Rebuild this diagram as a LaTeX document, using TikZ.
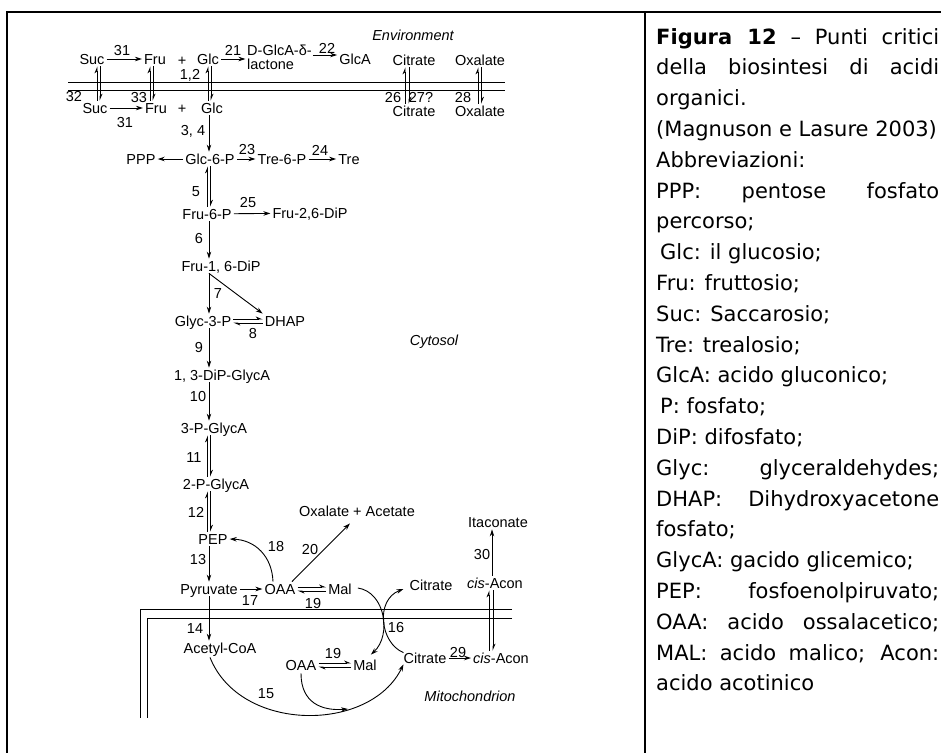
\documentclass[tikz,border=0pt]{standalone}
\usepackage{fontspec}
\setmainfont{Liberation Sans}
\newfontfamily\capfont{DejaVu Sans}
\usetikzlibrary{arrows.meta,calc}
\begin{document}
\begin{tikzpicture}[x=1pt,y=-1pt,
  met/.style={inner xsep=2pt,inner ysep=2pt,text height=10.4pt,text depth=0pt,font=\fontsize{14.5}{16}\selectfont},
  num/.style={inner sep=0pt,text height=10.4pt,text depth=0pt,font=\fontsize{14.5}{16}\selectfont},
  itl/.style={inner sep=0pt,font=\fontsize{14.5}{16}\selectfont\itshape},
  ar/.style={line width=0.9pt,-{Stealth[length=7pt,width=4.5pt]}},
  hp/.style={line width=0.8pt,-{Stealth[length=6pt,width=5pt,harpoon]}},
  mem/.style={line width=0.9pt},
  frame/.style={line width=1.3pt},
  captxt/.style={inner sep=0pt,anchor=base west,font=\capfont\fontsize{21}{25}\selectfont},
]
\useasboundingbox (0,0) rectangle (941,753);
% table frame
\draw[frame,line width=2pt] (7,12) -- (7,753);
\draw[frame] (6,12) -- (941,12);
\draw[frame] (645,12) -- (645,753);
% membranes
\draw[mem] (68,82) -- (505,82);
\draw[mem] (68,90) -- (505,90);
\draw[mem] (512,609) -- (140,609) -- (140,718);
\draw[mem] (512,618) -- (147,618) -- (147,718);
% spine coordinates
\coordinate (spine) at (209,0);
\coordinate (tx) at (491,0);
% environment
\node[itl] (env) at (413,35) {Environment};
\node[met] (sucE) at (92,59) {Suc};
\node[met] (fruE) at (155,59) {Fru};
\node[met] (plE) at (182,60) {+};
\node[met] (glcE) at (208,59) {Glc};
\node[inner sep=0pt,anchor=west,align=left,font=\fontsize{14.5}{14}\selectfont] (lac) at (247,57.5) {D-GlcA-δ-\\lactone};
\node[met] (glca) at (355,59) {GlcA};
\node[met] (citE) at (414,60) {Citrate};
\node[met] (oxE) at (480,60) {Oxalate};
\node[met] (sucC) at (95,108) {Suc};
\node[met] (fruC) at (156,108) {Fru};
\node[met] (plC) at (182,108) {+};
\node[met] (glcC) at (212,108) {Glc};
\node[met] (citC) at (414,111) {Citrate};
\node[met] (oxC) at (480,111) {Oxalate};
\node[num] (l31a) at (122,50) {31};
\node[num] (l21) at (233,50) {21};
\node[num] (l22) at (327,48) {22};
\node[num] (l12) at (190,74) {1,2};
\node[num] (l32) at (74,96) {32};
\node[num] (l33) at (139,97) {33};
\node[num] (l31b) at (125,122) {31};
\node[num] (l26) at (393,97) {26};
\node[num] (l27) at (421,97) {27?};
\node[num] (l28) at (463,97) {28};
\node[num] (l34) at (193,130) {3, 4};
% environment arrows
\draw[ar] (sucE) -- (fruE);
\draw[ar] (sucC) -- (fruC);
\draw[ar,shorten >=1.5pt] (glcE) -- (glcE -| lac.west);
\draw[ar] ($(lac.east)+(1,-2.5)$) -- ($(lac.east -| glca.west)+(0,-2.5)$);
% transports across plasma membrane
\draw[hp] ($(sucC.north)+(2,0)$) -- ($(sucC.north |- sucE.south)+(2,0)$);
\draw[hp] ($(sucC.north |- sucE.south)+(5,0)$) -- ($(sucC.north)+(5,0)$);
\draw[hp] ($(fruC.north)+(-6,0)$) -- ($(fruC.north |- fruE.south)+(-6,0)$);
\draw[hp] ($(fruC.north |- fruE.south)+(-3,0)$) -- ($(fruC.north)+(-3,0)$);
\draw[hp] ($(glcC.north)+(-4,0)$) -- ($(glcC.north |- glcE.south)+(-4,0)$);
\draw[hp] ($(glcC.north |- glcE.south)+(-1,0)$) -- ($(glcC.north)+(-1,0)$);
\draw[hp] ($(citC.north)+(-9,0)$) -- ($(citC.north |- citE.south)+(-9,0)$);
\draw[hp] ($(citC.north |- citE.south)+(-5,0)$) -- ($(citC.north)+(-5,0)$);
\draw[hp] ($(oxC.north)+(-2,0)$) -- ($(oxC.north |- oxE.south)+(-2,0)$);
\draw[hp] ($(oxC.north |- oxE.south)+(1.5,0)$) -- ($(oxC.north)+(1.5,0)$);
% glycolysis nodes
\node[met] (glc6p) at (210,159) {Glc-6-P};
\node[met] (ppp) at (141,159) {PPP};
\node[met] (tre6p) at (282,159) {Tre-6-P};
\node[met] (tre) at (349,159) {Tre};
\node[num] (l23) at (247,149) {23};
\node[num] (l24) at (320,150) {24};
\node[num] (l5) at (196,191) {5};
\node[met] (fru6p) at (207,214) {Fru-6-P};
\node[met] (fru26) at (310,213) {Fru-2,6-DiP};
\node[num] (l25) at (248,202) {25};
\node[num] (l6) at (199,238) {6};
\node[met] (fru16) at (221,266) {Fru-1, 6-DiP};
\node[num] (l7) at (218,293) {7};
\node[met] (glyc3p) at (203,321) {Glyc-3-P};
\node[met] (dhap) at (285,321) {DHAP};
\node[num] (l8) at (253,333) {8};
\node[num] (l9) at (199,347) {9};
\node[itl] (cyto) at (434,342) {Cytosol};
\node[met] (dipg) at (222,375) {1, 3-DiP-GlycA};
\node[num] (l10) at (198,396) {10};
\node[met] (pg3) at (214,428) {3-P-GlycA};
\node[num] (l11) at (194,457) {11};
\node[met] (pg2) at (216,484) {2-P-GlycA};
\node[num] (l12b) at (196,512) {12};
\node[met] (pep) at (213,539) {PEP};
\node[num] (l13) at (198,559) {13};
\node[met] (pyr) at (209,589) {Pyruvate};
\node[num] (l17) at (250,600) {17};
\node[met] (oaa) at (280,589) {OAA};
\node[num] (l19a) at (313,603) {19};
\node[met] (mal) at (340,589) {Mal};
\node[num] (l18) at (276,546) {18};
\node[num] (l20) at (310,549) {20};
\node[met] (oxac) at (357,511) {Oxalate + Acetate};
\node[met] (itac) at (498,522) {Itaconate};
\node[num] (l30) at (482,554) {30};
\node[met] (citU) at (431,585) {Citrate};
\node[met] (caconU) at (495,583) {\textit{cis}-Acon};
\node[num] (l14) at (195,628) {14};
\node[met] (acoa) at (220,648) {Acetyl-CoA};
\node[num] (l16) at (396,627) {16};
\node[met] (oaaM) at (301,665) {OAA};
\node[met] (malM) at (365,665) {Mal};
\node[num] (l19b) at (333,653) {19};
\node[met] (citM) at (425,658) {Citrate};
\node[num] (l29) at (458,652) {29};
\node[met] (caconM) at (501,658) {\textit{cis}-Acon};
\node[num] (l15) at (266,693) {15};
\node[itl] (mito) at (470,696) {Mitochondrion};
% glycolysis arrows
\draw[ar] (spine |- glcC.south) -- (spine |- glc6p.north);
\draw[ar] (glc6p) -- (ppp);
\draw[ar] (glc6p) -- (tre6p);
\draw[ar] (tre6p) -- (tre);
\draw[hp] ($(spine |- fru6p.north)+(-1.5,0)$) -- ($(spine |- glc6p.south)+(-1.5,0)$);
\draw[hp] ($(spine |- glc6p.south)+(1.5,0)$) -- ($(spine |- fru6p.north)+(1.5,0)$);
\draw[ar] (fru6p) -- (fru26);
\draw[ar] (spine |- fru6p.south) -- (spine |- fru16.north);
\draw[ar] (spine |- fru16.south) -- (spine |- glyc3p.north);
\draw[ar] (spine |- fru16.south) -- (dhap.north west);
\draw[hp] ($(glyc3p.east)+(0,-2)$) -- ($(glyc3p.east -| dhap.west)+(0,-2)$);
\draw[hp] ($(glyc3p.east -| dhap.west)+(0,2)$) -- ($(glyc3p.east)+(0,2)$);
\draw[ar] (spine |- glyc3p.south) -- (spine |- dipg.north);
\draw[ar] (spine |- dipg.south) -- (spine |- pg3.north);
\draw[hp] ($(spine |- pg2.north)+(-1.5,0)$) -- ($(spine |- pg3.south)+(-1.5,0)$);
\draw[hp] ($(spine |- pg3.south)+(1.5,0)$) -- ($(spine |- pg2.north)+(1.5,0)$);
\draw[hp] ($(spine |- pep.north)+(-1.5,0)$) -- ($(spine |- pg2.south)+(-1.5,0)$);
\draw[hp] ($(spine |- pg2.south)+(1.5,0)$) -- ($(spine |- pep.north)+(1.5,0)$);
\draw[ar] (spine |- pep.south) -- (spine |- pyr.north);
\draw[ar] (pyr) -- (oaa);
\draw[hp] ($(oaa.east)+(0,-2)$) -- ($(oaa.east -| mal.west)+(0,-2)$);
\draw[hp] ($(oaa.east -| mal.west)+(0,2)$) -- ($(oaa.east)+(0,2)$);
\draw[ar] ($(oaa.north)+(-7,0)$) .. controls (272,556) and (255,540) .. (pep.east);
\draw[ar] ($(oaa.north)+(12,0)$) -- ($(oxac.south)+(-7,5)$);
\draw[ar] ($(caconU.north)+(-3,0)$) -- ($(caconU.north |- itac.south)+(-3,0)$);
\draw[ar] (spine |- pyr.south) -- (spine |- acoa.north);
% mitochondrion
\draw[hp] ($(tx |- caconM.north)+(-2,0)$) -- ($(tx |- caconU.south)+(-2,0)$);
\draw[hp] ($(tx |- caconU.south)+(2,0)$) -- ($(tx |- caconM.north)+(2,0)$);
\draw[ar] (citM) -- (caconM);
\draw[hp] ($(oaaM.east)+(0,-2)$) -- ($(oaaM.east -| malM.west)+(0,-2)$);
\draw[hp] ($(oaaM.east -| malM.west)+(0,2)$) -- ($(oaaM.east)+(0,2)$);
\draw[ar] ($(mal.east)+(4,-1)$) .. controls (385,592) and (392,635) .. ($(malM.north east)+(-8,-3)$);
\draw[ar] ($(citM.north west)+(2,2)$) .. controls (380,643) and (375,600) .. ($(citU.west)+(-4,4)$);
\coordinate (m15) at (348,709);
\draw[ar] ($(acoa.south)+(-10,2)$) .. controls (240,733) and (370,733) .. ($(citM.south west)+(2,-1)$);
\draw[ar] ($(oaaM.south)+(0,1)$) .. controls (301,703) and (322,711) .. (m15);
% caption
\node[captxt] (c0) at (656,44) {\makebox[283pt][s]{\textbf{Figura 12} – Punti critici}};
\node[captxt] (c1) at (656,74.8) {\makebox[283pt][s]{della biosintesi di acidi}};
\node[captxt] (c2) at (656,105.6) {organici.};
\node[captxt] (c3) at (656,136.4) {(Magnuson e Lasure 2003)};
\node[captxt] (c4) at (656,167.2) {Abbreviazioni:};
\node[captxt] (c5) at (656,198) {\makebox[283pt][s]{PPP: pentose fosfato}};
\node[captxt] (c6) at (656,228.8) {percorso;};
\node[captxt] (c7) at (660,259.6) {Glc: il glucosio;};
\node[captxt] (c8) at (656,290.4) {Fru: fruttosio;};
\node[captxt] (c9) at (656,321.2) {Suc: Saccarosio;};
\node[captxt] (c10) at (656,352) {Tre: trealosio;};
\node[captxt] (c11) at (656,382.8) {GlcA: acido gluconico;};
\node[captxt] (c12) at (660,413.6) {P: fosfato;};
\node[captxt] (c13) at (656,444.4) {DiP: difosfato;};
\node[captxt] (c14) at (656,475.2) {\makebox[283pt][s]{Glyc: glyceraldehydes;}};
\node[captxt] (c15) at (656,506) {\makebox[283pt][s]{DHAP: Dihydroxyacetone}};
\node[captxt] (c16) at (656,536.8) {fosfato;};
\node[captxt] (c17) at (656,567.6) {GlycA: gacido glicemico;};
\node[captxt] (c18) at (656,598.4) {\makebox[283pt][s]{PEP: fosfoenolpiruvato;}};
\node[captxt] (c19) at (656,629.2) {\makebox[283pt][s]{OAA: acido ossalacetico;}};
\node[captxt] (c20) at (656,660) {\makebox[283pt][s]{MAL: acido malico; Acon:}};
\node[captxt] (c21) at (656,690.8) {acido acotinico};
\end{tikzpicture}
\end{document}
